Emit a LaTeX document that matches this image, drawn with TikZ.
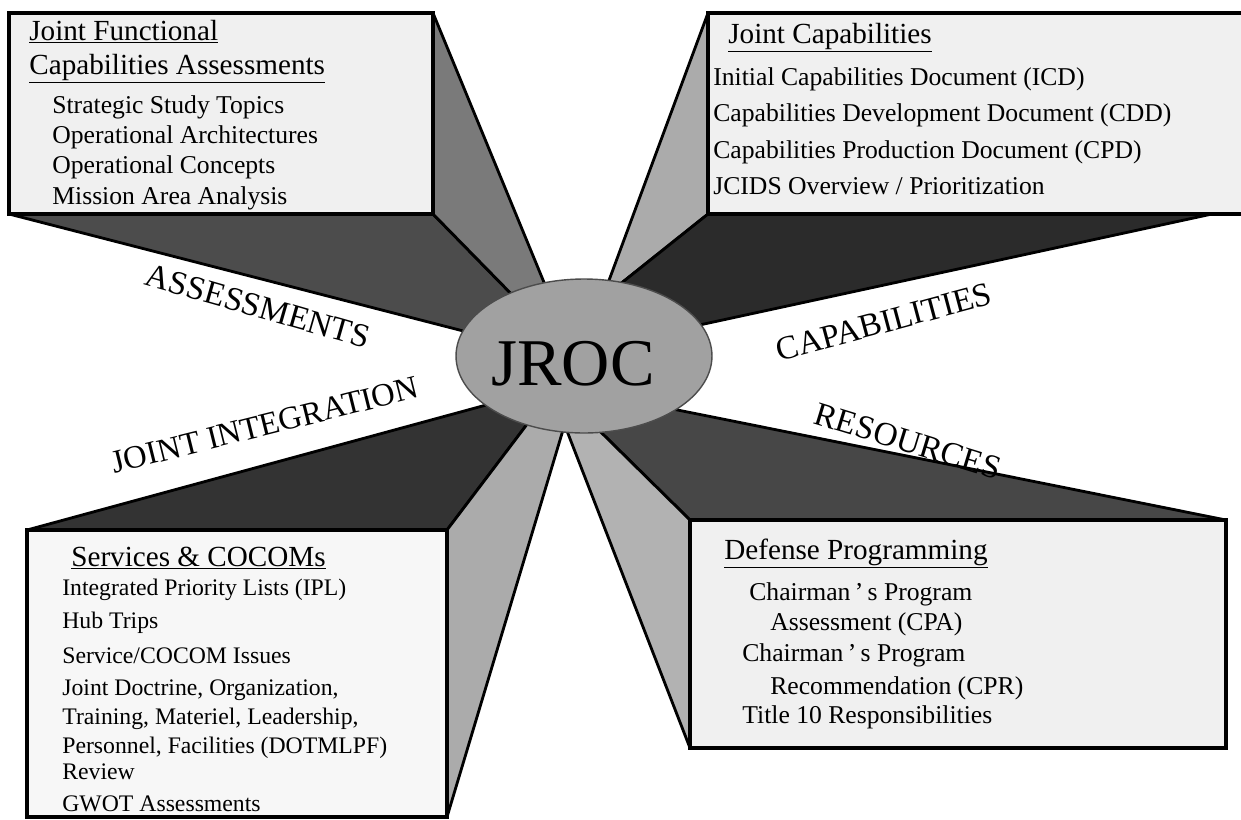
\documentclass[tikz,border=0pt]{standalone}
\usepackage{fontspec}
\setmainfont{Liberation Serif}
\usetikzlibrary{shapes.geometric}

\definecolor{panelgray}{gray}{0.94}
\definecolor{panellight}{gray}{0.97}
\definecolor{sidemid}{gray}{0.48}
\definecolor{sidelight}{gray}{0.67}
\definecolor{sidedark}{gray}{0.30}
\definecolor{sidedeep}{gray}{0.17}
\definecolor{hubgray}{gray}{0.63}

\begin{document}
\begin{tikzpicture}[x=0.02cm, y=-0.02cm,
                    panel/.style={draw=black, line width=1.8pt, fill=panelgray},
                    facet/.style={draw=black, line width=1.6pt, line join=round},
                    listitem/.style={anchor=base west, inner sep=0pt, font=\fontsize{14.6}{17}\selectfont},
                    smallitem/.style={listitem, font=\fontsize{13.5}{16}\selectfont},
                    listhead/.style={anchor=base west, inner sep=0pt, font=\fontsize{16.6}{19}\selectfont},
                    spokelabel/.style={inner sep=0pt}]

  \useasboundingbox (0,0) rectangle (1241,819);
  \clip (0,0) rectangle (1241,819);

  % points where the spokes vanish behind the hub
  \coordinate (assess tip) at (576,360);
  \coordinate (cap tip a) at (581,356);
  \coordinate (cap tip b) at (530,356);
  \coordinate (cap tip c) at (584,350);
  \coordinate (int tip a) at (556,386);
  \coordinate (int tip b) at (572,400);
  \coordinate (res tip a) at (553,385);
  \coordinate (res tip b) at (548,382);

  % assessments spoke
  \filldraw[facet, fill=sidedark] (9,214) -- (433,214) -- (assess tip) -- cycle;
  \filldraw[facet, fill=sidemid] (433,13) -- (433,214) -- (assess tip) -- cycle;
  \draw[panel] (9,13) rectangle (433,214);

  % capabilities spoke
  \filldraw[facet, fill=sidelight] (708,13) -- (708,214) -- (cap tip b) -- (cap tip a) -- cycle;
  \filldraw[facet, fill=sidedeep] (708,214) -- (1212,214) -- (cap tip c) -- (cap tip b) -- cycle;
  \draw[panel] (708,13) rectangle (1260,214);

  % joint integration spoke
  \filldraw[facet, fill=black!80] (27,530) -- (447,530) -- (int tip a) -- cycle;
  \filldraw[facet, fill=sidelight] (447,530) -- (447,817) -- (int tip b) -- (int tip a) -- cycle;
  \draw[panel, fill=panellight] (27,530) rectangle (447,817);

  % resources spoke
  \filldraw[facet, fill=black!72] (690,520) -- (1226,520) -- (res tip a) -- cycle;
  \filldraw[facet, fill=black!30] (690,520) -- (690,748) -- (res tip b) -- (res tip a) -- cycle;
  \draw[panel] (690,520) rectangle (1226,748);

  \node[ellipse, draw=black!70, line width=0.8pt, fill=hubgray, inner sep=0pt,
        minimum width=5.12cm, minimum height=3.08cm] (jroc) at (584,356) {};
  \node[anchor=base, inner sep=0pt, font=\fontsize{38}{40}\selectfont] (jroclabel) at (573,385) {JROC};

  \node[spokelabel, rotate=-16, font=\fontsize{19}{22}\selectfont] (assesslabel) at (258,306) {ASSESSMENTS};
  \node[spokelabel, rotate=15, font=\fontsize{19}{22}\selectfont] (caplabel) at (884,322) {CAPABILITIES};
  \node[spokelabel, rotate=14, font=\fontsize{18.5}{21}\selectfont] (intlabel) at (265,425) {JOINT INTEGRATION};
  \node[spokelabel, rotate=-17, font=\fontsize{19}{22}\selectfont] (reslabel) at (908,441) {RESOURCES};

  % panel texts
  \node[listhead] (jfca1) at (29,40) {\underline{Joint Functional}};
  \node[listhead] (jfca2) at (29,74) {\underline{Capabilities Assessments}};
  \node[listitem] (jfca3) at (52,113) {Strategic Study Topics};
  \node[listitem] (jfca4) at (52,143) {Operational Architectures};
  \node[listitem] (jfca5) at (52,173) {Operational Concepts};
  \node[listitem] (jfca6) at (52,204) {Mission Area Analysis};

  \node[listhead] (jc1) at (728,43) {\underline{Joint Capabilities}};
  \node[listitem] (jc2) at (713,85) {Initial Capabilities Document (ICD)};
  \node[listitem] (jc3) at (713,121) {Capabilities Development Document (CDD)};
  \node[listitem] (jc4) at (713,158) {Capabilities Production Document (CPD)};
  \node[listitem] (jc5) at (713,194) {JCIDS Overview / Prioritization};

  \node[listhead] (sc1) at (71,566) {\underline{Services \& COCOMs}};
  \node[smallitem] (sc2) at (62,595) {Integrated Priority Lists (IPL)};
  \node[smallitem] (sc3) at (62,628) {Hub Trips};
  \node[smallitem] (sc4) at (62,663) {Service/COCOM Issues};
  \node[smallitem] (sc5) at (62,695) {Joint Doctrine, Organization,};
  \node[smallitem] (sc6) at (62,724) {Training, Materiel, Leadership,};
  \node[smallitem] (sc7) at (62,753) {Personnel, Facilities (DOTMLPF)};
  \node[smallitem] (sc8) at (62,779) {Review};
  \node[smallitem] (sc9) at (62,811) {GWOT Assessments};

  \node[listhead] (dp1) at (724,559) {\underline{Defense Programming}};
  \node[listitem] (dp2) at (749,600) {Chairman\,’\,s Program};
  \node[listitem] (dp3) at (770,630) {Assessment (CPA)};
  \node[listitem] (dp4) at (742,661) {Chairman\,’\,s Program};
  \node[listitem] (dp5) at (770,694) {Recommendation (CPR)};
  \node[listitem] (dp6) at (742,723) {Title 10 Responsibilities};

\end{tikzpicture}
\end{document}
